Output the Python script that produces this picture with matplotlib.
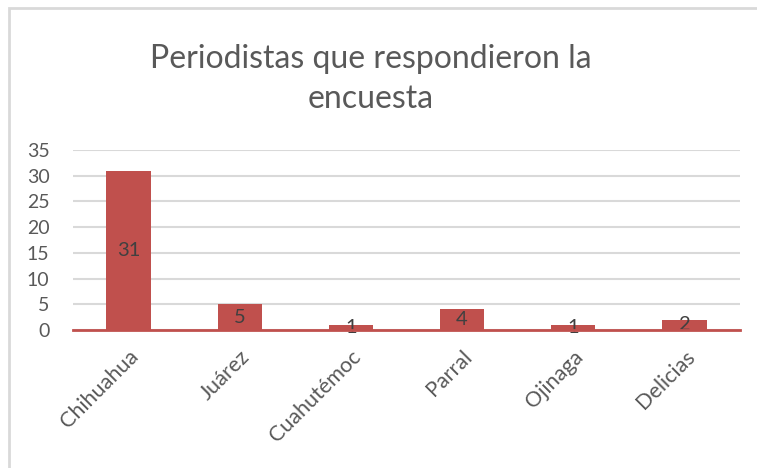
import matplotlib
matplotlib.use("Agg")
import matplotlib.pyplot as plt
from matplotlib.patches import Rectangle

categories = ["Chihuahua", "Juárez", "Cuahutémoc", "Parral", "Ojinaga", "Delicias"]
values = [31, 5, 1, 4, 1, 2]
yticks = [0, 5, 10, 15, 20, 25, 30, 35]
title = "Periodistas que respondieron la\nencuesta"

plt.rcParams['font.family'] = ['Lato', 'DejaVu Sans']
TEXT = "#595959"
BAR = "#C0504D"
GRID = "#D9D9D9"

fig = plt.figure(figsize=(7.57, 4.68), dpi=100)
fig.patches.append(Rectangle((8.5/757, -0.1), 1.2, (468 - 7.5)/468 + 0.1,
                             transform=fig.transFigure, fill=False,
                             edgecolor=GRID, linewidth=2, zorder=0))

ax = fig.add_axes([73/757, (468-330)/468, (740-73)/757, 180/468])
x = list(range(len(categories)))
bars = ax.bar(x, values, width=0.4, color=BAR, zorder=3)
for xi, v in zip(x, values):
    ax.text(xi, v/2, str(v), ha="center", va="center", fontsize=14.5,
            color="#404040", zorder=4)

ax.set_xlim(-0.5, len(categories) - 0.5)
ax.set_ylim(0, 35)
ax.set_yticks(yticks)
ax.set_yticklabels([str(t) for t in yticks], fontsize=14, color=TEXT)
ax.set_xticks(x)
ax.set_xticklabels(categories, rotation=45, ha="right", rotation_mode="anchor",
                   fontsize=15.5, color=TEXT)
ax.tick_params(length=0)
ax.tick_params(axis="y", pad=17)
ax.tick_params(axis="x", pad=12)
ax.grid(axis="y", color=GRID, linewidth=1.5, zorder=0)
for s in ["top", "right", "left"]:
    ax.spines[s].set_visible(False)
ax.spines["bottom"].set_color(BAR)
ax.spines["bottom"].set_linewidth(2)
ax.spines["bottom"].set_zorder(5)

fig.text(371/757, 1 - 79/468, title, ha="center", va="center", fontsize=23,
         color=TEXT, linespacing=1.4)

fig.savefig("out.png", dpi=100)
